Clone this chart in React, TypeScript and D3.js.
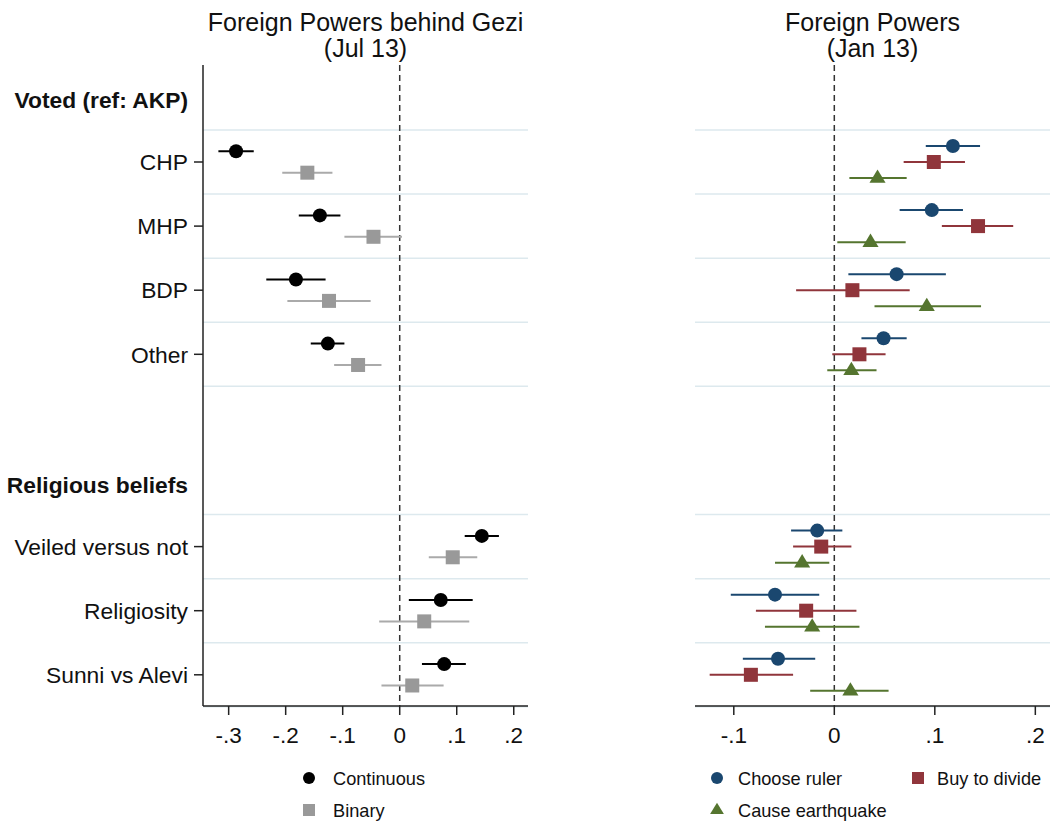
import * as d3 from 'd3';
import React from 'react';

// row labels and their slot positions (headings sit in empty slots)
const rowLabels = ['CHP', 'MHP', 'BDP', 'Other', 'Veiled versus not', 'Religiosity', 'Sunni vs Alevi'];
const rowSlots = [1, 2, 3, 4, 7, 8, 9];
const headings = ['Voted (ref: AKP)', 'Religious beliefs'];
const headingSlots = [0, 6];

// left panel: Foreign Powers behind Gezi (Jul 13)
const contEst = [-0.287, -0.140, -0.182, -0.126, 0.144, 0.072, 0.078];
const contLo = [-0.318, -0.177, -0.234, -0.156, 0.114, 0.016, 0.039];
const contHi = [-0.256, -0.104, -0.130, -0.097, 0.174, 0.128, 0.116];
const binEst = [-0.162, -0.046, -0.124, -0.073, 0.093, 0.043, 0.022];
const binLo = [-0.206, -0.097, -0.197, -0.115, 0.051, -0.036, -0.032];
const binHi = [-0.118, 0.004, -0.051, -0.032, 0.136, 0.122, 0.077];

// right panel: Foreign Powers (Jan 13)
const rulerEst = [0.118, 0.097, 0.062, 0.049, -0.017, -0.059, -0.056];
const rulerLo = [0.091, 0.065, 0.014, 0.027, -0.043, -0.103, -0.091];
const rulerHi = [0.145, 0.128, 0.111, 0.072, 0.008, -0.015, -0.019];
const divideEst = [0.099, 0.143, 0.018, 0.025, -0.013, -0.028, -0.083];
const divideLo = [0.069, 0.107, -0.038, -0.002, -0.041, -0.078, -0.124];
const divideHi = [0.130, 0.178, 0.075, 0.051, 0.017, 0.022, -0.041];
const quakeEst = [0.043, 0.036, 0.092, 0.017, -0.032, -0.022, 0.016];
const quakeLo = [0.015, 0.003, 0.040, -0.007, -0.059, -0.069, -0.024];
const quakeHi = [0.072, 0.071, 0.146, 0.042, -0.005, 0.025, 0.054];

const leftTicks = [-0.3, -0.2, -0.1, 0, 0.1, 0.2];
const leftTickLabels = ['-.3', '-.2', '-.1', '0', '.1', '.2'];
const rightTicks = [-0.1, 0, 0.1, 0.2];
const rightTickLabels = ['-.1', '0', '.1', '.2'];

const FONT = '"Liberation Sans", Arial, sans-serif';
const GRID = '#dde9ee';
const NAVY = '#1a476f';
const MAROON = '#90353b';
const GREEN = '#55752f';

const top = 65;
const bottom = 706;
const y = d3.scaleLinear().domain([1, 9]).range([162, 674.8]);
const xL = d3.scaleLinear().domain([-0.345, 0.225]).range([203, 528]);
const xR = d3.scaleLinear().domain([-0.1386, 0.2146]).range([695, 1050]);
const rowH = y(2) - y(1);

const gridSlots = Array.from(new Set(rowSlots.flatMap(s => [s - 0.5, s + 0.5])));

type Shape = 'circle' | 'square' | 'triangle';

const Marker = ({ shape, cx, cy, fill, size = 7 }: { shape: Shape; cx: number; cy: number; fill: string; size?: number }) => {
  if (shape === 'circle') return <circle cx={cx} cy={cy} r={size} fill={fill} />;
  if (shape === 'square') return <rect x={cx - size} y={cy - size} width={size * 2} height={size * 2} fill={fill} />;
  const w = size * 1.15;
  const h = size * 1.9;
  return (
    <path d={`M${cx},${cy - h * 0.64} L${cx + w},${cy + h * 0.36} L${cx - w},${cy + h * 0.36} Z`} fill={fill} />
  );
};

const Series = ({ x, est, lo, hi, offset, color, lineColor, shape }: any) => (
  <g>
    {est.map((v: number, i: number) => {
      const cy = y(rowSlots[i]) + offset;
      return (
        <g key={i}>
          <line x1={x(lo[i])} x2={x(hi[i])} y1={cy} y2={cy} stroke={lineColor} strokeWidth={2} />
          <Marker shape={shape} cx={x(v)} cy={cy} fill={color} />
        </g>
      );
    })}
  </g>
);

const Panel = ({ x, ticks, tickLabels, title, showYAxis }: any) => {
  const [x0, x1] = x.range();
  return (
    <g>
      {title.map((t: string, i: number) => (
        <text key={t} x={(x0 + x1) / 2} y={31 + i * 26} textAnchor="middle" fontSize={25} fill="#111">
          {t}
        </text>
      ))}
      {gridSlots.map(s => (
        <line key={s} x1={x0} x2={x1} y1={y(s)} y2={y(s)} stroke={GRID} strokeWidth={1.5} />
      ))}
      <line x1={x(0)} x2={x(0)} y1={top} y2={bottom} stroke="#333" strokeWidth={1.5} strokeDasharray="6,4" />
      <line x1={x0} x2={x1} y1={bottom} y2={bottom} stroke="#222" strokeWidth={1.5} />
      {ticks.map((t: number, i: number) => (
        <g key={t}>
          <line x1={x(t)} x2={x(t)} y1={bottom} y2={bottom + 9} stroke="#222" strokeWidth={1.5} />
          <text x={x(t)} y={743} textAnchor="middle" fontSize={22.5} fill="#111">
            {tickLabels[i]}
          </text>
        </g>
      ))}
      {showYAxis && (
        <g>
          <line x1={x0} x2={x0} y1={top} y2={bottom} stroke="#222" strokeWidth={1.5} />
          {rowLabels.map((r, i) => (
            <g key={r}>
              <line x1={x0 - 9} x2={x0} y1={y(rowSlots[i])} y2={y(rowSlots[i])} stroke="#222" strokeWidth={1.5} />
              <text x={x0 - 15} y={y(rowSlots[i])} dy="0.36em" textAnchor="end" fontSize={22.8} fill="#111">
                {r}
              </text>
            </g>
          ))}
          {headings.map((h, i) => (
            <text key={h} x={x0 - 15} y={y(headingSlots[i]) + 2} dy="0.36em" textAnchor="end" fontSize={22.8} fontWeight="bold" fill="#111">
              {h}
            </text>
          ))}
        </g>
      )}
    </g>
  );
};

const LegendItem = ({ shape, color, x, cy, label, gap = 21 }: any) => (
  <g>
    <Marker shape={shape} cx={x} cy={cy} fill={color} size={6} />
    <text x={x + gap} y={cy} dy="0.36em" fontSize={18.2} fill="#111">
      {label}
    </text>
  </g>
);

export default function App() {
  return (
    <svg width={1056} height={822} style={{ display: 'block', position: 'absolute', left: 0, top: 0, background: '#fff' }} fontFamily={FONT}>
      <rect width={1056} height={822} fill="#fff" />
      <Panel x={xL} ticks={leftTicks} tickLabels={leftTickLabels} title={['Foreign Powers behind Gezi', '(Jul 13)']} showYAxis />
      <Panel x={xR} ticks={rightTicks} tickLabels={rightTickLabels} title={['Foreign Powers', '(Jan 13)']} showYAxis={false} />

      <Series x={xL} est={contEst} lo={contLo} hi={contHi} offset={-rowH / 6} color="#000" lineColor="#000" shape="circle" />
      <Series x={xL} est={binEst} lo={binLo} hi={binHi} offset={rowH / 6} color="#999" lineColor="#aaa" shape="square" />

      <Series x={xR} est={rulerEst} lo={rulerLo} hi={rulerHi} offset={-rowH / 4} color={NAVY} lineColor={NAVY} shape="circle" />
      <Series x={xR} est={divideEst} lo={divideLo} hi={divideHi} offset={0} color={MAROON} lineColor={MAROON} shape="square" />
      <Series x={xR} est={quakeEst} lo={quakeLo} hi={quakeHi} offset={rowH / 4} color={GREEN} lineColor={GREEN} shape="triangle" />

      <LegendItem shape="circle" color="#000" x={309} cy={778} label="Continuous" gap={24} />
      <LegendItem shape="square" color="#999" x={309} cy={810} label="Binary" gap={24} />
      <LegendItem shape="circle" color={NAVY} x={717} cy={778} label="Choose ruler" />
      <LegendItem shape="square" color={MAROON} x={918} cy={778} label="Buy to divide" gap={19} />
      <LegendItem shape="triangle" color={GREEN} x={717} cy={810} label="Cause earthquake" />
    </svg>
  );
}
